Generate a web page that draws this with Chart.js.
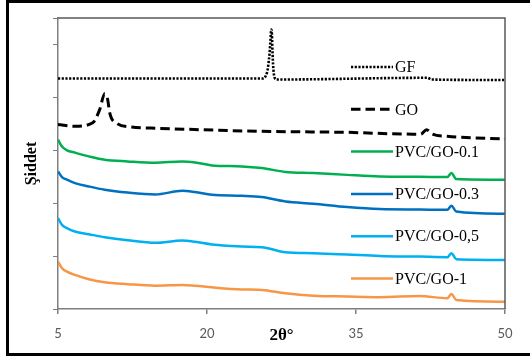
<!DOCTYPE html>
<html>
<head>
<meta charset="utf-8">
<script src="https://cdn.jsdelivr.net/npm/chart.js@4"></script>
<style>
  body { margin: 0; background: #fff; }
  #wrap { width: 530px; height: 359px; position: relative; }
</style>
</head>
<body>
<div id="wrap"><canvas id="xrdChart"></canvas></div>
<script>
// 2θ positions and intensities
const pvcTheta = [5, 5.4, 5.9, 6.7, 8.1, 9.7, 12, 14.8, 17.5, 18.8, 20.5, 23.5, 25.5, 27.9, 30.7, 34.1, 37.4, 41.4, 44.2, 44.6, 45.1, 50];
const pvc01 = [3.20, 3.07, 3.00, 2.955, 2.885, 2.822, 2.79, 2.765, 2.79, 2.77, 2.714, 2.695, 2.665, 2.59, 2.57, 2.535, 2.506, 2.50, 2.494, 2.57, 2.456, 2.443];
const pvc03 = [2.60, 2.494, 2.443, 2.38, 2.316, 2.254, 2.20, 2.165, 2.235, 2.21, 2.159, 2.14, 2.116, 2.032, 1.99, 1.926, 1.888, 1.88, 1.875, 1.95, 1.843, 1.80];
const pvc05 = [1.718, 1.59, 1.528, 1.464, 1.414, 1.358, 1.30, 1.25, 1.294, 1.27, 1.22, 1.18, 1.169, 1.074, 1.055, 1.03, 1.004, 0.99, 0.979, 1.055, 0.941, 0.928];
const pvc1 = [0.896, 0.77, 0.706, 0.644, 0.563, 0.506, 0.47, 0.44, 0.455, 0.44, 0.41, 0.37, 0.36, 0.297, 0.252, 0.235, 0.222, 0.246, 0.203, 0.284, 0.17, 0.138];

const goTheta = [5, 6.7, 8.5, 9.2, 9.7, 10.0, 10.2, 10.9, 12.4, 14.3, 19.2, 25.5, 34.1, 40.7, 41.5, 42.1, 42.7, 44.2, 50];
const goValues = [3.485, 3.453, 3.52, 3.77, 4.07, 3.96, 3.71, 3.51, 3.44, 3.42, 3.39, 3.358, 3.339, 3.305, 3.305, 3.39, 3.305, 3.263, 3.214];

const gfTheta = [5, 25.5, 26.04, 26.29, 26.49, 26.65, 26.8, 27.05, 42.2, 42.6, 50];
const gfValues = [4.356, 4.356, 4.47, 4.81, 5.284, 4.62, 4.375, 4.337, 4.37, 4.337, 4.328];

const xTicks = [5, 20, 35, 50];

function pairs(xs, ys) {
    return xs.map((x, i) => ({ x: x, y: ys[i] }));
}

// outer black frame + plot border
const framePlugin = {
    id: 'frame',
    beforeDraw(chart) {
        const ctx = chart.ctx;
        ctx.save();
        ctx.fillStyle = '#fff';
        ctx.fillRect(0, 0, chart.width, chart.height);
        ctx.fillStyle = '#000';
        ctx.fillRect(6, 0, chart.width - 6, 3);
        ctx.fillRect(6, 0, 3, 356);
        ctx.fillRect(6, 353, chart.width - 6, 3);
        ctx.restore();
    },
    afterDraw(chart) {
        const a = chart.chartArea;
        const ctx = chart.ctx;
        ctx.save();
        ctx.strokeStyle = '#595959';
        ctx.lineWidth = 1.5;
        ctx.beginPath();
        ctx.moveTo(a.left, a.top);
        ctx.lineTo(a.right, a.top);
        ctx.lineTo(a.right, a.bottom);
        ctx.stroke();
        ctx.restore();
    }
};

// legend drawn inside the plot area
const insideLegend = {
    id: 'insideLegend',
    afterDatasetsDraw(chart) {
        const ctx = chart.ctx;
        ctx.save();
        chart.data.datasets.forEach((ds, i) => {
            const y = 67 + i * 42.3;
            ctx.strokeStyle = ds.borderColor;
            ctx.lineWidth = ds.borderWidth;
            ctx.setLineDash(ds.borderDash || []);
            ctx.beginPath();
            ctx.moveTo(351, y);
            ctx.lineTo(393, y);
            ctx.stroke();
            ctx.setLineDash([]);
            ctx.fillStyle = '#000';
            ctx.font = '16px "Liberation Serif"';
            ctx.textBaseline = 'middle';
            ctx.fillText(ds.label, 395, y + 1);
        });
        ctx.restore();
    }
};

const ctx = document.getElementById('xrdChart').getContext('2d');
new Chart(ctx, {
    type: 'line',
    data: {
        datasets: [
            { label: 'GF', data: pairs(gfTheta, gfValues), borderColor: '#000000', borderWidth: 2.6, borderDash: [2.2, 1.5] },
            { label: 'GO', data: pairs(goTheta, goValues), borderColor: '#000000', borderWidth: 3, borderDash: [9.5, 5] },
            { label: 'PVC/GO-0.1', data: pairs(pvcTheta, pvc01), borderColor: '#00B050', borderWidth: 2.5 },
            { label: 'PVC/GO-0.3', data: pairs(pvcTheta, pvc03), borderColor: '#0070C0', borderWidth: 2.5 },
            { label: 'PVC/GO-0,5', data: pairs(pvcTheta, pvc05), borderColor: '#00B0F0', borderWidth: 2.5 },
            { label: 'PVC/GO-1', data: pairs(pvcTheta, pvc1), borderColor: '#F79646', borderWidth: 2.5 }
        ]
    },
    options: {
        responsive: true,
        maintainAspectRatio: false,
        animation: false,
        cubicInterpolationMode: 'monotone',
        elements: { point: { radius: 0 } },
        layout: { padding: { left: 0, right: 25, top: 18, bottom: 0 } },
        plugins: {
            legend: { display: false },
            tooltip: { enabled: false }
        },
        scales: {
            x: {
                type: 'linear',
                min: 5,
                max: 50,
                afterFit: (scale) => { scale.height = 50; },
                afterBuildTicks: (scale) => { scale.ticks = xTicks.map(v => ({ value: v })); },
                border: { color: '#7f7f7f', width: 1.5 },
                grid: { drawOnChartArea: false, tickLength: 5, color: '#7f7f7f', lineWidth: 1.5 },
                ticks: {
                    padding: 12,
                    color: '#595959',
                    font: { family: 'Lato', size: 13 },
                    maxRotation: 0
                },
                title: {
                    display: true,
                    text: '2θ°',
                    color: '#000',
                    font: { family: 'Liberation Serif', size: 17, weight: 'bold' },
                    padding: { top: 0, bottom: 13 }
                }
            },
            y: {
                min: 0,
                max: 5.5,
                afterFit: (scale) => { scale.width = 58; },
                border: { color: '#7f7f7f', width: 1.5 },
                grid: { drawOnChartArea: false, tickLength: 5, color: '#7f7f7f', lineWidth: 1 },
                ticks: { stepSize: 1, callback: () => '' },
                title: {
                    display: true,
                    text: 'Şiddet',
                    color: '#000',
                    font: { family: 'Liberation Serif', size: 16, weight: 'bold' },
                    padding: { top: 22, bottom: 0 }
                }
            }
        }
    },
    plugins: [framePlugin, insideLegend]
});
</script>
</body>
</html>
